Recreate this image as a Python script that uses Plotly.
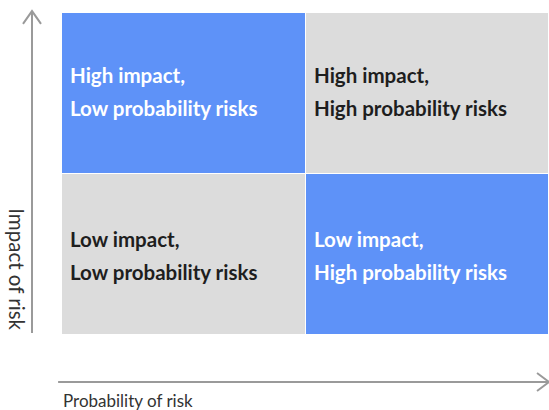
import plotly.graph_objects as go

# Data
probability_levels = ["Low probability", "High probability"]
impact_levels = ["Low impact", "High impact"]
# z[row=impact][col=probability]: 1 = highlighted (blue), 0 = neutral (gray)
highlight = [[0, 1],
             [1, 0]]
impact_text = [["Low impact,", "Low impact,"],
               ["High impact,", "High impact,"]]
probability_text = [["Low probability risks", "High probability risks"],
                    ["Low probability risks", "High probability risks"]]
x_axis_label = "Probability of risk"
y_axis_label = "Impact of risk"

BLUE = "#5e92f8"
GRAY = "#dcdcdc"
FONT = "Lato"
ARROW = "#9a9a9a"

xs = [0.5, 1.5]
ys = [0.5, 1.5]

fig = go.Figure()
fig.add_trace(go.Heatmap(
    x=xs, y=ys, z=highlight,
    colorscale=[[0, GRAY], [1, BLUE]],
    zmin=0, zmax=1, showscale=False,
    xgap=1, ygap=1, hoverinfo="skip",
))

annotations = []
for r in range(2):
    for c in range(2):
        col = "white" if highlight[r][c] == 1 else "#1e1e1e"
        x0 = xs[c] - 0.5 + 0.025
        extra = 3 if r == 1 else 0
        for line, shift in ((impact_text[r][c], 16), (probability_text[r][c], -17)):
            annotations.append(dict(
                x=x0, y=ys[r], xref="x", yref="y", text=line,
                showarrow=False, xanchor="left", yanchor="middle",
                yshift=shift + extra,
                font=dict(family=FONT, size=20.5, color=col, weight="bold"),
            ))

# axis arrows (decoration): shafts and open chevron heads, in paper coords
arrow_line = dict(color=ARROW, width=2)
shapes = [
    dict(type="line", xref="paper", yref="paper", x0=-0.008, x1=0.999,
         y0=-0.146, y1=-0.146, line=arrow_line),
    dict(type="line", xref="paper", yref="paper", x0=-0.0616, x1=-0.0616,
         y0=0.006, y1=1.002, line=arrow_line),
    dict(type="path", xref="paper", yref="paper",
         path="M 0.9754 -0.118 L 1.0 -0.146 L 0.9754 -0.174",
         line=arrow_line),
    dict(type="path", xref="paper", yref="paper",
         path="M -0.0801 0.966 L -0.0616 1.006 L -0.0431 0.966",
         line=arrow_line),
]
annotations.append(dict(
    x=-0.002, y=-0.202, xref="paper", yref="paper", text=x_axis_label,
    showarrow=False, xanchor="left", yanchor="middle",
    font=dict(family=FONT, size=17, color="#333333"),
))
annotations.append(dict(
    x=-0.093, y=0.205, xref="paper", yref="paper", text=y_axis_label,
    showarrow=False, xanchor="center", yanchor="middle", textangle=90,
    font=dict(family=FONT, size=20.5, color="#333333"),
))

fig.update_layout(
    width=549, height=410,
    margin=dict(l=62, r=0, t=13, b=75),
    paper_bgcolor="white", plot_bgcolor="white",
    xaxis=dict(range=[0, 2], visible=False, fixedrange=True),
    yaxis=dict(range=[0, 2], visible=False, fixedrange=True),
    annotations=annotations,
    shapes=shapes,
    showlegend=False,
)

fig.write_html(
    "out.html",
    config={"displayModeBar": False},
    post_script="document.body.style.margin='0';document.body.style.overflow='hidden';",
)
